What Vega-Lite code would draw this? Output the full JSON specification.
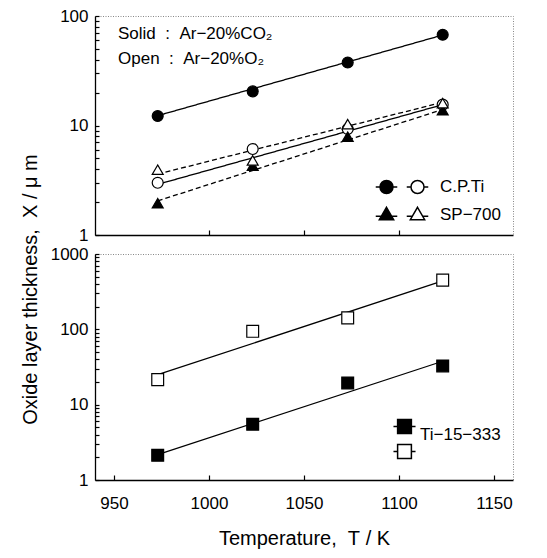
{
  "$schema": "https://vega.github.io/schema/vega-lite/v6.json",
  "background": "white",
  "padding": {"left": 20, "top": 6, "right": 5, "bottom": 5},
  "title": {"text": "Oxide layer thickness,\u00a0\u00a0X\u00a0/\u00a0μ\u00a0m", "orient": "left", "anchor": "middle", "fontSize": 20, "font": "Liberation Sans", "fontWeight": "normal", "color": "black", "offset": 9, "dx": -12},
  "bounds": "flush",
  "spacing": 19,
  "config": {
    "font": "Liberation Sans",
    "view": {"stroke": "#888", "strokeDash": [1, 1.5], "strokeWidth": 1},
    "title": {"fontSize": 17, "subtitleFontSize": 17, "font": "Liberation Sans", "subtitleFont": "Liberation Sans", "fontWeight": "normal", "color": "black", "subtitleColor": "black"},
    "axis": {"domainColor": "black", "domainWidth": 1.3, "tickColor": "black", "tickWidth": 1.2, "grid": false, "labelFontSize": 17, "labelColor": "black", "labelFont": "Liberation Sans", "titleFont": "Liberation Sans", "titleFontWeight": "normal", "titleColor": "black", "titleFontSize": 20}
  },
  "datasets": {
    "top": [
      {"T": 973, "X": 12.2, "series": "C.P.Ti|CO2"},
      {"T": 1023, "X": 20.5, "series": "C.P.Ti|CO2"},
      {"T": 1073, "X": 37.6, "series": "C.P.Ti|CO2"},
      {"T": 1123, "X": 67.4, "series": "C.P.Ti|CO2"},
      {"T": 973, "X": 3.0, "series": "C.P.Ti|O2"},
      {"T": 1023, "X": 6.1, "series": "C.P.Ti|O2"},
      {"T": 1073, "X": 9.3, "series": "C.P.Ti|O2"},
      {"T": 1123, "X": 15.5, "series": "C.P.Ti|O2"},
      {"T": 973, "X": 1.95, "series": "SP-700|CO2"},
      {"T": 1023, "X": 4.3, "series": "SP-700|CO2"},
      {"T": 1073, "X": 7.9, "series": "SP-700|CO2"},
      {"T": 1123, "X": 13.8, "series": "SP-700|CO2"},
      {"T": 973, "X": 3.95, "series": "SP-700|O2"},
      {"T": 1023, "X": 4.8, "series": "SP-700|O2"},
      {"T": 1073, "X": 10.3, "series": "SP-700|O2"},
      {"T": 1123, "X": 16.0, "series": "SP-700|O2"}
    ],
    "topfit": [
      {"T": 973, "X": 12.3, "series": "C.P.Ti|CO2"},
      {"T": 1123, "X": 67.0, "series": "C.P.Ti|CO2"},
      {"T": 973, "X": 2.9, "series": "C.P.Ti|O2"},
      {"T": 1123, "X": 15.5, "series": "C.P.Ti|O2"},
      {"T": 973, "X": 2.05, "series": "SP-700|CO2"},
      {"T": 1123, "X": 14.0, "series": "SP-700|CO2"},
      {"T": 973, "X": 3.6, "series": "SP-700|O2"},
      {"T": 1123, "X": 16.3, "series": "SP-700|O2"}
    ],
    "bottom": [
      {"T": 973, "X": 2.13, "series": "Ti-15-333|CO2"},
      {"T": 1023, "X": 5.5, "series": "Ti-15-333|CO2"},
      {"T": 1073, "X": 19.4, "series": "Ti-15-333|CO2"},
      {"T": 1123, "X": 32.7, "series": "Ti-15-333|CO2"},
      {"T": 973, "X": 21.5, "series": "Ti-15-333|O2"},
      {"T": 1023, "X": 94, "series": "Ti-15-333|O2"},
      {"T": 1073, "X": 142, "series": "Ti-15-333|O2"},
      {"T": 1123, "X": 450, "series": "Ti-15-333|O2"}
    ],
    "bottomfit": [
      {"T": 973, "X": 2.17, "series": "Ti-15-333|CO2"},
      {"T": 1123, "X": 37.7, "series": "Ti-15-333|CO2"},
      {"T": 973, "X": 25, "series": "Ti-15-333|O2"},
      {"T": 1123, "X": 440, "series": "Ti-15-333|O2"}
    ]
  },
  "vconcat": [
    {
      "width": 418,
      "height": 219,
      "title": {"text": "Solid\u00a0\u00a0:\u00a0\u00a0Ar−20%CO₂", "subtitle": "Open\u00a0\u00a0:\u00a0\u00a0Ar−20%O₂", "anchor": "start", "frame": "group", "orient": "top", "offset": -61, "dx": 23, "fontSize": 17, "subtitleFontSize": 17, "fontWeight": "normal", "subtitlePadding": 8},
      "layer": [
        {
          "data": {"name": "topfit"},
          "mark": {"type": "line", "color": "black", "strokeWidth": 1.3},
          "encoding": {
            "x": {"field": "T", "type": "quantitative", "scale": {"domain": [950, 1150]}, "axis": {"values": [1000, 1050, 1100], "labels": false, "title": null, "tickSize": -5}},
            "y": {"field": "X", "type": "quantitative", "scale": {"type": "log", "domain": [1, 100]}, "axis": {"values": [1, 2, 3, 4, 5, 6, 7, 8, 9, 10, 20, 30, 40, 50, 60, 70, 80, 90, 100], "format": "d", "labelExpr": "datum.value == 1 || datum.value == 10 || datum.value == 100 ? datum.label : ''", "title": null, "tickSize": -4, "labelPadding": 11}},
            "strokeDash": {"field": "series", "type": "nominal", "scale": {"domain": ["C.P.Ti|CO2", "C.P.Ti|O2", "SP-700|CO2", "SP-700|O2"], "range": [[1, 0], [1, 0], [5, 3], [5, 3]]}, "legend": null}
          }
        },
        {
          "data": {"name": "top"},
          "mark": {"type": "point", "filled": true, "stroke": "black", "strokeWidth": 1.2, "opacity": 1, "size": 120},
          "encoding": {
            "x": {"field": "T", "type": "quantitative"},
            "y": {"field": "X", "type": "quantitative"},
            "shape": {"field": "series", "type": "nominal", "scale": {"domain": ["C.P.Ti|CO2", "C.P.Ti|O2", "SP-700|CO2", "SP-700|O2"], "range": ["circle", "circle", "triangle-up", "triangle-up"]}, "legend": null},
            "fill": {"field": "series", "type": "nominal", "scale": {"domain": ["C.P.Ti|CO2", "C.P.Ti|O2", "SP-700|CO2", "SP-700|O2"], "range": ["black", "white", "black", "white"]}, "legend": null}
          }
        },
        {
          "data": {"name": "top"},
          "transform": [{"filter": "false"}],
          "mark": {"type": "point", "filled": true, "stroke": "black", "strokeWidth": 1.2, "opacity": 1},
          "encoding": {
            "x": {"field": "T", "type": "quantitative"},
            "y": {"field": "X", "type": "quantitative"},
            "shape": {"field": "series", "type": "nominal", "scale": {"domain": ["C.P.Ti|CO2", "C.P.Ti|O2", "SP-700|CO2", "SP-700|O2"], "range": ["M-1.65,0H-1M1,0H1.65M1,0A1,1,0,1,1,-1,0A1,1,0,1,1,1,0Z", "M-1.65,0H-1M1,0H1.65M1,0A1,1,0,1,1,-1,0A1,1,0,1,1,1,0Z", "M-1.65,0.25H-0.85M0.85,0.25H1.65M0,-1.1L1.1,0.8H-1.1Z", "M-1.65,0.25H-0.85M0.85,0.25H1.65M0,-1.1L1.1,0.8H-1.1Z"]},
              "legend": {"title": null, "orient": "bottom-right", "direction": "horizontal", "columns": 2, "offset": 12, "padding": 0, "labelExpr": "datum.value == 'C.P.Ti|O2' ? 'C.P.Ti' : datum.value == 'SP-700|O2' ? 'SP−700' : ''", "symbolSize": 170, "labelFontSize": 17, "labelColor": "black", "labelFont": "Liberation Sans", "labelOffset": 14, "columnPadding": -6, "rowPadding": 7,
                "encode": {"symbols": {"stroke": {"value": "black"}, "strokeWidth": {"value": 1.2}}}}},
            "fill": {"field": "series", "type": "nominal", "scale": {"domain": ["C.P.Ti|CO2", "C.P.Ti|O2", "SP-700|CO2", "SP-700|O2"], "range": ["black", "white", "black", "white"]},
              "legend": {"title": null, "orient": "bottom-right", "direction": "horizontal", "columns": 2, "offset": 12, "padding": 0, "labelExpr": "datum.value == 'C.P.Ti|O2' ? 'C.P.Ti' : datum.value == 'SP-700|O2' ? 'SP−700' : ''", "symbolSize": 170, "labelFontSize": 17, "labelColor": "black", "labelFont": "Liberation Sans", "labelOffset": 14, "columnPadding": -6, "rowPadding": 7,
                "encode": {"symbols": {"stroke": {"value": "black"}, "strokeWidth": {"value": 1.2}}}}}
          }
        }
      ],
      "resolve": {"scale": {"shape": "independent", "fill": "independent"}}
    },
    {
      "width": 418,
      "height": 226,
      "layer": [
        {
          "data": {"name": "bottomfit"},
          "mark": {"type": "line", "color": "black", "strokeWidth": 1.3},
          "encoding": {
            "x": {"field": "T", "type": "quantitative", "scale": {"domain": [950, 1150]}, "axis": {"values": [950, 1000, 1050, 1100, 1150], "format": "d", "title": "Temperature,\u00a0\u00a0T\u00a0/\u00a0K", "tickSize": -5, "labelPadding": 20, "titlePadding": 17}},
            "y": {"field": "X", "type": "quantitative", "scale": {"type": "log", "domain": [1, 1000]}, "axis": {"values": [1, 2, 3, 4, 5, 6, 7, 8, 9, 10, 20, 30, 40, 50, 60, 70, 80, 90, 100, 200, 300, 400, 500, 600, 700, 800, 900, 1000], "format": "d", "labelExpr": "datum.value == 1 || datum.value == 10 || datum.value == 100 || datum.value == 1000 ? datum.label : ''", "title": null, "tickSize": -4, "labelPadding": 11}},
            "detail": {"field": "series", "type": "nominal"}
          }
        },
        {
          "data": {"name": "bottom"},
          "mark": {"type": "point", "shape": "square", "filled": true, "stroke": "black", "strokeWidth": 1.2, "opacity": 1, "size": 140},
          "encoding": {
            "x": {"field": "T", "type": "quantitative"},
            "y": {"field": "X", "type": "quantitative"},
            "fill": {"field": "series", "type": "nominal", "scale": {"domain": ["Ti-15-333|CO2", "Ti-15-333|O2"], "range": ["black", "white"]}, "legend": null}
          }
        },
        {
          "data": {"name": "bottom"},
          "transform": [{"filter": "false"}],
          "mark": {"type": "point", "filled": true, "stroke": "black", "strokeWidth": 1.2, "opacity": 1},
          "encoding": {
            "x": {"field": "T", "type": "quantitative"},
            "y": {"field": "X", "type": "quantitative"},
            "shape": {"field": "series", "type": "nominal", "scale": {"domain": ["Ti-15-333|CO2", "Ti-15-333|O2"], "range": ["M-1.6,0H-1M1,0H1.6M-1,-1H1V1H-1Z", "M-1.6,0H-1M1,0H1.6M-1,-1H1V1H-1Z"]},
              "legend": {"title": null, "orient": "bottom-right", "offset": 12, "padding": 0, "labelExpr": "datum.value == 'Ti-15-333|CO2' ? 'Ti−15−333' : ''", "labelBaseline": "top", "symbolSize": 190, "labelFontSize": 17, "labelColor": "black", "labelFont": "Liberation Sans", "labelOffset": 7, "rowPadding": -13,
                "encode": {"symbols": {"stroke": {"value": "black"}, "strokeWidth": {"value": 1.2}}}}},
            "fill": {"field": "series", "type": "nominal", "scale": {"domain": ["Ti-15-333|CO2", "Ti-15-333|O2"], "range": ["black", "white"]},
              "legend": {"title": null, "orient": "bottom-right", "offset": 12, "padding": 0, "labelExpr": "datum.value == 'Ti-15-333|CO2' ? 'Ti−15−333' : ''", "labelBaseline": "top", "symbolSize": 190, "labelFontSize": 17, "labelColor": "black", "labelFont": "Liberation Sans", "labelOffset": 7, "rowPadding": -13,
                "encode": {"symbols": {"stroke": {"value": "black"}, "strokeWidth": {"value": 1.2}}}}}
          }
        }
      ],
      "resolve": {"scale": {"shape": "independent", "fill": "independent"}}
    }
  ],
  "resolve": {"scale": {"fill": "independent", "shape": "independent", "strokeDash": "independent", "y": "independent"}}
}
